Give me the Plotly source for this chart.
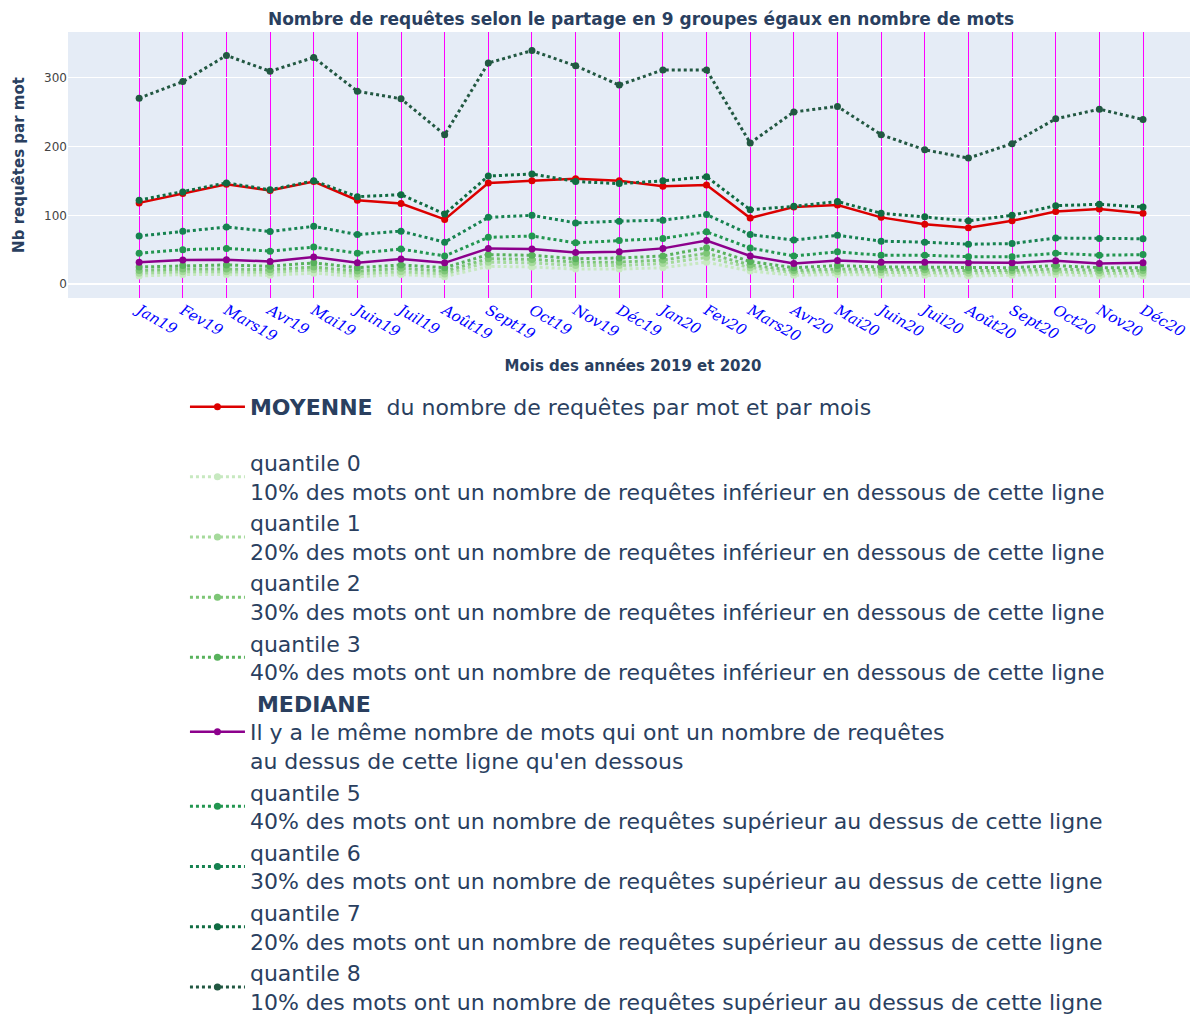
import plotly.graph_objects as go

mois = ["Jan19", "Fev19", "Mars19", "Avr19", "Mai19", "Juin19", "Juil19", "Août19",
        "Sept19", "Oct19", "Nov19", "Déc19", "Jan20", "Fev20", "Mars20", "Avr20",
        "Mai20", "Juin20", "Juil20", "Août20", "Sept20", "Oct20", "Nov20", "Déc20"]

moyenne = [118, 131.5, 145, 136, 149, 122, 117, 94, 147, 150, 153, 150,
           142, 144, 96, 112, 115, 97, 87, 82, 92, 105.5, 109, 103]
mediane = [32, 35, 35.5, 33, 39.5, 31, 36.5, 31, 52, 51, 46, 47,
           52, 63.5, 41, 30, 34.5, 32, 32, 31, 31, 34, 30, 31]
q0 = [12, 14, 14, 13, 16, 11, 14, 11, 26, 25, 22, 22, 24, 32, 19, 13, 14, 13, 13, 12, 13, 14, 12, 12]
q1 = [16, 18, 18, 17, 21, 15, 18, 15, 32, 31, 27, 27, 30, 39, 24, 17, 18, 17, 17, 16, 17, 18, 16, 16]
q2 = [20, 22, 22, 21, 25, 19, 23, 19, 37, 36, 32, 32, 35, 45, 28, 20, 22, 21, 21, 20, 20, 22, 20, 20]
q3 = [25, 27, 28, 26, 31, 24, 28, 24, 43, 42, 37, 38, 41, 53, 33, 24, 27, 25, 25, 24, 24, 27, 24, 24]
q5 = [45, 50, 52, 48, 54, 45, 51, 41, 68, 70, 60, 63.5, 66.5, 76, 52.5, 41, 47, 42, 42, 40, 40, 45, 42, 43]
q6 = [70, 77, 83, 76.5, 84, 72, 77, 61, 97, 100, 89, 91.5, 93, 101, 72, 64, 71, 62.5, 61, 58, 59, 67, 66.5, 66]
q7 = [122, 134, 147, 137, 150, 127, 130, 102, 157, 160, 149, 146, 150, 156, 108, 113, 120, 103, 98, 92, 100, 114, 116, 112]
q8 = [270, 294, 332, 309, 329, 280, 269, 217, 321, 339, 317, 289, 311, 311, 205, 250, 258, 217, 195, 183, 204, 240, 254, 239]

txt_inf = "% des mots ont un nombre de requêtes inférieur en dessous de cette ligne"
txt_sup = "% des mots ont un nombre de requêtes supérieur au dessus de cette ligne"

quantiles = [
    ("quantile 0<br>10" + txt_inf, q0, "rgb(199,233,192)"),
    ("quantile 1<br>20" + txt_inf, q1, "rgb(165,218,155)"),
    ("quantile 2<br>30" + txt_inf, q2, "rgb(125,198,118)"),
    ("quantile 3<br>40" + txt_inf, q3, "rgb(88,178,92)"),
]
quantiles_hauts = [
    ("quantile 5<br>40" + txt_sup, q5, "rgb(35,150,80)"),
    ("quantile 6<br>30" + txt_sup, q6, "rgb(22,130,80)"),
    ("quantile 7<br>20" + txt_sup, q7, "rgb(16,108,66)"),
    ("quantile 8<br>10" + txt_sup, q8, "rgb(34,88,66)"),
]

fig = go.Figure()

fig.add_trace(go.Scatter(
    x=mois, y=moyenne, mode="lines+markers",
    name="<b>MOYENNE</b>  du nombre de requêtes par mot et par mois",
    line=dict(color="rgb(220,0,0)", width=2.5), marker=dict(size=7),
    legendgroup="moy"))

def add_q(name, vals, col):
    fig.add_trace(go.Scatter(
        x=mois, y=vals, mode="lines+markers", name=name,
        line=dict(color=col, width=3, dash="dot"), marker=dict(size=7),
        legendgroup="q"))

for n, v, c in quantiles:
    add_q(n, v, c)

fig.add_trace(go.Scatter(
    x=mois, y=mediane, mode="lines+markers",
    name=" <b>MEDIANE</b><br>Il y a le même nombre de mots qui ont un nombre de requêtes<br>au dessus de cette ligne qu'en dessous",
    line=dict(color="rgb(140,0,140)", width=2.5), marker=dict(size=7),
    legendgroup="q"))

for n, v, c in quantiles_hauts:
    add_q(n, v, c)

fig.update_layout(
    width=1190, height=1008,
    template="plotly",
    margin=dict(l=60, r=0, t=24, b=718, autoexpand=False),
    title=dict(text="<b>Nombre de requêtes selon le partage en 9 groupes égaux en nombre de mots</b>",
               x=633 / 1190, xanchor="center", y=1 - 11 / 1008, yanchor="middle",
               font=dict(family="DejaVu Sans", size=17, color="#2a3f5f")),
    font=dict(family="DejaVu Sans", color="#2a3f5f"),
    legend=dict(orientation="v", x=0.1035, xanchor="left",
                y=-0.331, yanchor="top",
                font=dict(family="DejaVu Sans", size=22, color="#2a3f5f"),
                itemwidth=55, tracegroupgap=24, bgcolor="rgba(0,0,0,0)",
                maxheight=900),
    showlegend=True,
)

fig.update_xaxes(
    showgrid=True, gridcolor="magenta", gridwidth=1,
    tickangle=30,
    tickfont=dict(family="DejaVu Serif", style="italic", size=15, color="blue"),
    title=dict(text="<b>Mois des années 2019 et 2020</b>",
               font=dict(family="DejaVu Sans", size=15, color="#2a3f5f")),
    range=[-1.63, 24.26],
)
fig.update_yaxes(
    range=[-20, 366], tickvals=[0, 100, 200, 300],
    tickfont=dict(family="DejaVu Sans", size=12, color="#444"),
    title=dict(text="<b>Nb requêtes par mot</b>",
               font=dict(family="DejaVu Sans", size=15, color="#2a3f5f")),
)

fig.write_html("out.html")
